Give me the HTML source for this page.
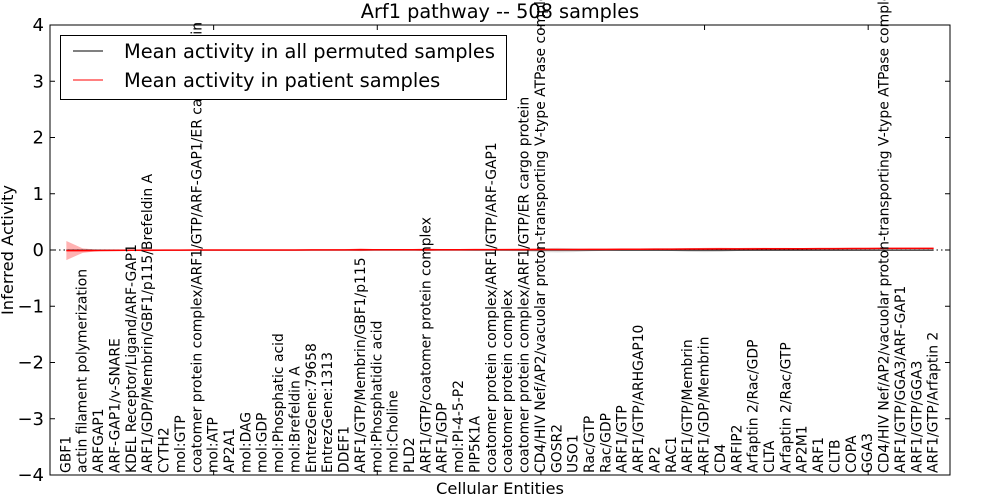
<!DOCTYPE html>
<html><head><meta charset="utf-8"><style>
body{margin:0;background:#fff}
svg{display:block;font-family:"DejaVu Sans","Liberation Sans",sans-serif}
</style></head><body>
<svg id="chart" width="1000" height="500">
<g id="bands"></g>
<g id="lines"></g>
<g id="frame"></g>
<g id="labels"></g>
</svg>
<script>
const categories=["GBF1","actin filament polymerization","ARFGAP1","ARF-GAP1/v-SNARE","KDEL Receptor/Ligand/ARF-GAP1","ARF1/GDP/Membrin/GBF1/p115/Brefeldin A","CYTH2","mol:GTP","coatomer protein complex/ARF1/GTP/ARF-GAP1/ER cargo protein","mol:ATP","AP2A1","mol:DAG","mol:GDP","mol:Phosphatic acid","mol:Brefeldin A","EntrezGene:79658","EntrezGene:1313","DDEF1","ARF1/GTP/Membrin/GBF1/p115","mol:Phosphatidic acid","mol:Choline","PLD2","ARF1/GTP/coatomer protein complex","ARF1/GDP","mol:PI-4-5-P2","PIP5K1A","coatomer protein complex/ARF1/GTP/ARF-GAP1","coatomer protein complex","coatomer protein complex/ARF1/GTP/ER cargo protein","CD4/HIV Nef/AP2/vacuolar proton-transporting V-type ATPase complex","GOSR2","USO1","Rac/GTP","Rac/GDP","ARF1/GTP","ARF1/GTP/ARHGAP10","AP2","RAC1","ARF1/GTP/Membrin","ARF1/GDP/Membrin","CD4","ARFIP2","Arfaptin 2/Rac/GDP","CLTA","Arfaptin 2/Rac/GTP","AP2M1","ARF1","CLTB","COPA","GGA3","CD4/HIV Nef/AP2/vacuolar proton-transporting V-type ATPase complex","ARF1/GTP/GGA3/ARF-GAP1","ARF1/GTP/GGA3","ARF1/GTP/Arfaptin 2"];
const patientMean=[-0.01,-0.01,-0.008,-0.007,-0.005,-0.004,-0.003,-0.002,0,0,0,0,0,0,0,0.002,0.002,0.003,0.004,0.004,0.004,0.005,0.005,0.005,0.005,0.006,0.006,0.006,0.007,0.008,0.009,0.01,0.011,0.012,0.013,0.014,0.015,0.016,0.017,0.018,0.019,0.02,0.021,0.022,0.022,0.023,0.024,0.025,0.026,0.027,0.028,0.029,0.03,0.03];
const patientSd=[0.17,0.04,0.01,0.01,0.01,0.02,0.01,0.01,0.01,0.01,0.01,0.01,0.01,0.01,0.01,0.01,0.01,0.01,0.025,0.01,0.01,0.01,0.025,0.01,0.01,0.01,0.01,0.015,0.02,0.02,0.015,0.01,0.01,0.01,0.01,0.01,0.01,0.01,0.015,0.02,0.02,0.015,0.02,0.015,0.015,0.01,0.01,0.01,0.01,0.01,0.01,0.01,0.01,0.01];
const permMean=[-0.003,-0.003,-0.003,-0.003,-0.003,-0.003,-0.003,-0.003,-0.003,-0.003,-0.003,-0.003,-0.003,-0.003,-0.003,-0.003,-0.003,-0.003,-0.003,-0.003,-0.003,-0.003,-0.003,-0.003,-0.003,-0.003,-0.003,-0.003,-0.003,-0.003,-0.003,-0.003,-0.003,-0.003,-0.003,-0.003,-0.003,-0.003,-0.003,-0.003,-0.003,-0.003,-0.003,-0.003,-0.003,-0.003,-0.003,-0.003,-0.003,-0.003,-0.003,-0.003,-0.003,-0.003];
const permSd=[0.01,0.01,0.01,0.01,0.01,0.01,0.01,0.01,0.01,0.01,0.01,0.01,0.01,0.01,0.01,0.01,0.01,0.01,0.01,0.01,0.01,0.01,0.01,0.01,0.01,0.01,0.01,0.015,0.02,0.035,0.04,0.035,0.02,0.01,0.01,0.01,0.01,0.015,0.03,0.035,0.03,0.015,0.01,0.01,0.01,0.01,0.01,0.01,0.01,0.01,0.01,0.01,0.01,0.01];
const yTicks=[-4,-3,-2,-1,0,1,2,3,4];
const xTicks=[0,10,20,30,40,50];

const L=50,R=950,T=25,B=475,XMAX=55,YMIN=-4,YMAX=4;
const sx=v=>L+(v/XMAX)*(R-L);
const sy=v=>B-(v-YMIN)/(YMAX-YMIN)*(B-T);
const NS="http://www.w3.org/2000/svg";
function mk(tag,parent,attrs){const e=document.createElementNS(NS,tag);for(const k in attrs)e.setAttribute(k,attrs[k]);parent.appendChild(e);return e;}
const gB=document.getElementById('bands'),gL=document.getElementById('lines'),gF=document.getElementById('frame'),gT=document.getElementById('labels');

function band(mean,sd,fill,op,name){
  let up=mean.map((m,i)=>sx(i+1)+','+sy(m+sd[i]));
  let dn=mean.map((m,i)=>sx(i+1)+','+sy(m-sd[i])).reverse();
  const p=mk('polygon',gB,{points:up.concat(dn).join(' '),fill:fill,'fill-opacity':op});
  
  
}
band(permMean,permSd,'#888',0.3,'permuted-band');
band(patientMean,patientSd,'#f00',0.3,'patient-band');

const zl=mk('line',gL,{x1:L,x2:R,y1:sy(0),y2:sy(0),stroke:'#000','stroke-dasharray':'1.5,3','stroke-width':1});


const pl=mk('polyline',gL,{points:permMean.map((m,i)=>sx(i+1)+','+sy(m)).join(' '),fill:'none',stroke:'#000','stroke-width':1});


const rl=mk('polyline',gL,{points:patientMean.map((m,i)=>sx(i+1)+','+sy(m)).join(' '),fill:'none',stroke:'#f00','stroke-width':1.5});



const fr=mk('rect',gF,{x:L,y:T,width:R-L,height:B-T,fill:'none',stroke:'#000','stroke-width':1});


yTicks.forEach(v=>{
  const y=sy(v);
  mk('line',gF,{x1:L,x2:L+5,y1:y,y2:y,stroke:'#000'});
  mk('line',gF,{x1:R-5,x2:R,y1:y,y2:y,stroke:'#000'});
  const t=mk('text',gF,{x:L-6,y:y+6,'text-anchor':'end','font-size':18});
  t.textContent=(v<0?'\u2212'+(-v):String(v));
  
  
});
xTicks.forEach(v=>{
  const x=sx(v);
  mk('line',gF,{x1:x,x2:x,y1:B,y2:B-5,stroke:'#000'});
  mk('line',gF,{x1:x,x2:x,y1:T,y2:T+5,stroke:'#000'});
});
categories.forEach((c,i)=>{
  const t=mk('text',gT,{transform:'translate('+(sx(i+1)+4)+','+(B-2)+') rotate(-90)','font-size':13.9});
  t.textContent=c;
  
  
});

const title=mk('text',gT,{x:500,y:18,'text-anchor':'middle','font-size':19.3});
title.textContent='Arf1 pathway -- 508 samples';


const xl=mk('text',gT,{x:500,y:494,'text-anchor':'middle','font-size':16.3});
xl.textContent='Cellular Entities';


const yl=mk('text',gT,{transform:'translate(13,250) rotate(-90)','text-anchor':'middle','font-size':16.3});
yl.textContent='Inferred Activity';



const lg=mk('g',gT,{});


mk('rect',lg,{x:60.5,y:35.5,width:446,height:64,fill:'#fff',stroke:'#000'});
mk('line',lg,{x1:73,x2:103,y1:51,y2:51,stroke:'#000'});
mk('line',lg,{x1:73,x2:103,y1:80,y2:80,stroke:'#f00'});
const l1=mk('text',lg,{x:124,y:58,'font-size':19.4});
l1.textContent='Mean activity in all permuted samples';


const l2=mk('text',lg,{x:124,y:87,'font-size':19.4});
l2.textContent='Mean activity in patient samples';


</script>
</body></html>
